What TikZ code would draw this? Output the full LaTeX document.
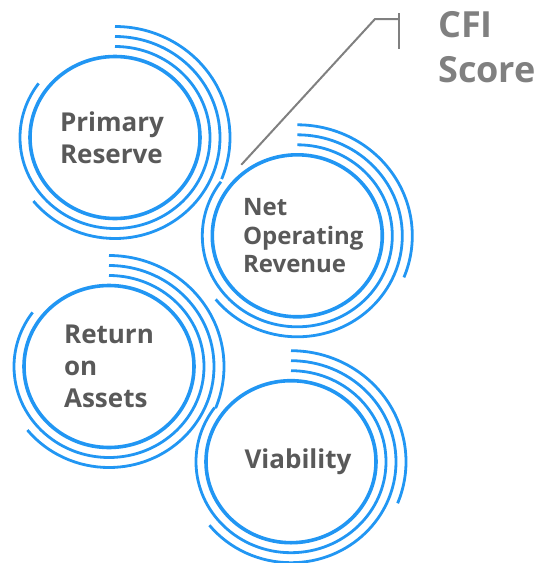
\documentclass[tikz,border=0pt]{standalone}
\usepackage{fontspec}
\setmainfont{Open Sans}
\usetikzlibrary{calc}
\definecolor{ringblue}{RGB}{33,150,243}
\definecolor{labelgray}{RGB}{89,89,89}
\definecolor{scoregray}{RGB}{128,128,128}

\begin{document}
\begin{tikzpicture}[x=1pt, y=1pt,
    core/.style={ringblue, line width=3.6pt},
    ring/.style={ringblue, line width=2.8pt},
    label/.style={labelgray, inner sep=0pt, align=left, font=\fontsize{26}{31.7}\selectfont\bfseries},
    score/.style={scoregray, inner sep=0pt, align=left, font=\fontsize{36}{45}\selectfont\bfseries},
    callout/.style={scoregray, line width=2pt}]
        \useasboundingbox (0,0) rectangle (542,-563);
        % centres of the four measures
        \coordinate (prc) at (115,-137.5);
        \coordinate (norc) at (297.3,-235.8);
        \coordinate (roac) at (109,-366.5);
        \coordinate (viac) at (291,-461.7);
        % circle and three open rings round each centre
        \foreach \c in {prc,norc,roac,viac}{
            \draw[core] (\c) ellipse [x radius=85, y radius=81];
            \draw[ring] ($(\c)+(0,91)$) arc [start angle=90, end angle=-216.5, x radius=95, y radius=91];
            \draw[ring] ($(\c)+(0,101)$) arc [start angle=90, end angle=-141, x radius=105, y radius=101];
            \draw[ring] ($(\c)+(0,111)$) arc [start angle=90, end angle=-22, x radius=115, y radius=111];
        }
        % labels
        \node[label] (pr) at ($(prc)+(-3,0)$) {Primary\\Reserve};
        \node[label, font=\fontsize{24}{28.7}\selectfont\bfseries] (nor) at ($(norc)+(6,0)$) {Net\\Operating\\Revenue};
        \node[label] (roa) at (roac) {Return\\on\\Assets};
        \node[label] (via) at ($(viac)+(7,0)$) {Viability};
        % CFI score callout
        \node[score, anchor=north west] (cfi) at (438,-11.3) {CFI\\Score};
        \coordinate (norfoot) at ($(norc)+(-56,71)$);
        \coordinate (bend) at (375,-19);
        \coordinate (tick) at (399,-19);
        \draw[callout] (norfoot) -- (bend) -- (tick);
        \draw[callout] ($(tick)+(0,6)$) -- ($(tick)+(0,-30)$);
\end{tikzpicture}
\end{document}
